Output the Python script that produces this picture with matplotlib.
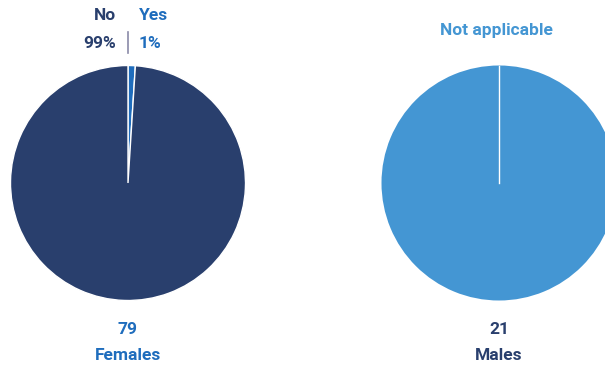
import matplotlib.pyplot as plt

# data
fem_labels = ['Yes', 'No']
fem_pct = [1, 99]
fem_count = 79
male_labels = ['Not applicable']
male_pct = [100]
male_count = 21

navy = '#293f6d'
blue = '#1f6dbd'
light = '#4496d3'

plt.rcParams['font.family'] = ['Roboto', 'DejaVu Sans']

fig = plt.figure(figsize=(6.05, 3.70), dpi=100)
ax = fig.add_axes([0, 0, 1, 1])
ax.set_aspect('equal')
ax.axis('off')

H = 370
r = 117.5
c1 = (128, H - 183)
c2 = (499, H - 183)

ax.pie(fem_pct, colors=[blue, navy], startangle=90, counterclock=False,
       center=c1, radius=r, wedgeprops=dict(edgecolor='white', linewidth=1))
ax.pie(male_pct, colors=[light], startangle=90, counterclock=False,
       center=c2, radius=r, wedgeprops=dict(edgecolor='none'))
ax.plot([c2[0], c2[0]], [c2[1], c2[1] + r], color='white', lw=1)
ax.set_xlim(0, 605)
ax.set_ylim(0, 370)

fs = 12.5
kw = dict(fontsize=fs, fontweight='bold', va='center')
ax.text(116, H - 16, fem_labels[1], color=navy, ha='right', **kw)
ax.text(139, H - 16, fem_labels[0], color=blue, ha='left', **kw)
ax.text(116, H - 43, f'{fem_pct[1]}%', color=navy, ha='right', **kw)
ax.text(139, H - 43, f'{fem_pct[0]}%', color=blue, ha='left', **kw)
ax.plot([128, 128], [H - 32, H - 53], color='#8a8aa8', lw=1.2)

ax.text(496, H - 31, male_labels[0], color=light, ha='center', **kw)

ax.text(128, H - 330, str(fem_count), color=blue, ha='center', **kw)
ax.text(128, H - 356, 'Females', color=blue, ha='center', **kw)
ax.text(499, H - 330, str(male_count), color=navy, ha='center', **kw)
ax.text(499, H - 356, 'Males', color=navy, ha='center', **kw)

fig.savefig('out.png', dpi=100)
